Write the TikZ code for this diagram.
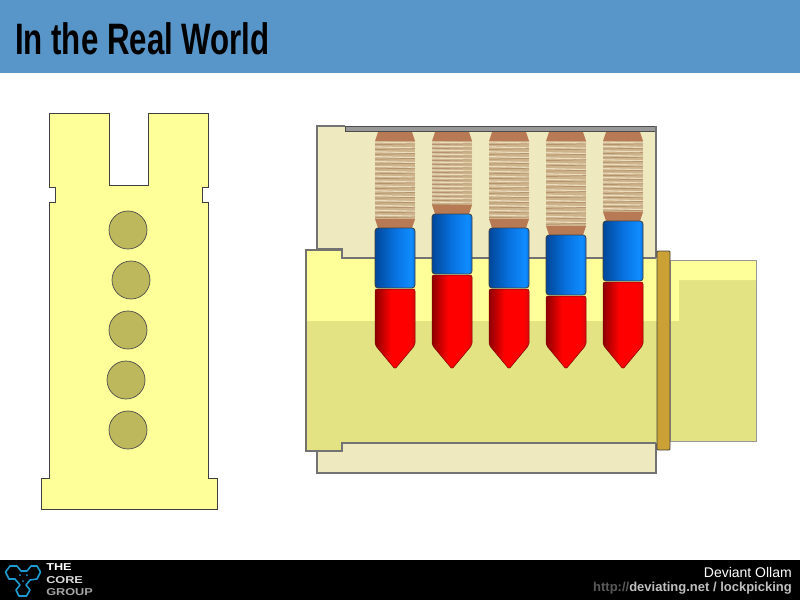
\documentclass[tikz,border=0pt]{standalone}
\usepackage{fontspec}
\setmainfont{Liberation Sans}
\usepackage{xcolor}
\usepackage{tikz}
\definecolor{barB}{HTML}{5895C8}
\definecolor{plugL}{HTML}{FFFF99}
\definecolor{plugD}{HTML}{E3E383}
\definecolor{shellY}{HTML}{EFE9BF}
\definecolor{holeG}{HTML}{BDB85C}
\definecolor{brassO}{HTML}{CBA035}
\definecolor{capB}{HTML}{B87A55}
\definecolor{coilT}{HTML}{CDB48C}
\definecolor{coilL}{HTML}{EBDDBE}
\definecolor{coilD}{HTML}{A8835C}
\definecolor{logoC}{HTML}{1E9BD0}
\definecolor{blueA}{HTML}{00479A}
\definecolor{blueB}{HTML}{0872E0}
\definecolor{blueC}{HTML}{108CFF}
\definecolor{redA}{HTML}{8E0000}
\definecolor{redB}{HTML}{FF0000}
\definecolor{redC}{HTML}{D80A0A}
\pgfdeclarehorizontalshading{pinblue}{100bp}{color(0bp)=(blueA); color(25bp)=(blueA);
  color(50bp)=(blueB); color(70bp)=(blueC); color(75bp)=(blueB); color(100bp)=(blueB)}
\pgfdeclarehorizontalshading{pinred}{100bp}{color(0bp)=(redA); color(25bp)=(redA);
  color(45bp)=(redB); color(68bp)=(redB); color(75bp)=(redC); color(100bp)=(redC)}
\tikzset{
  shellline/.style={draw=black!55,line width=1.2pt},
  faceline/.style={draw=black!75,line width=0.8pt},
  hole/.style={fill=holeG,draw=black!70,line width=0.7pt},
  bluepin/.style={shading=pinblue,draw=black!75,line width=0.8pt,rounded corners=3pt},
  redpin/.style={shading=pinred,draw=black!50!red,line width=0.5pt,rounded corners=2pt},
  logotext/.style={anchor=west,inner sep=0pt,xscale=1.27,transform shape,font=\fontsize{10}{10}\selectfont\bfseries},
}
\begin{document}
\begin{tikzpicture}[x=1pt,y=-1pt]
  \useasboundingbox (0,0) rectangle (800,600);
  % title and footer
  \fill[barB] (0,0) rectangle (800,73);
  \fill[black] (0,560) rectangle (800,600);
  \node[anchor=west,inner sep=0pt,xscale=0.71,transform shape,font=\fontsize{44}{44}\selectfont\bfseries] (title) at (15,39) {In the Real World};
  % front face
  \draw[faceline,fill=plugL] (49,113) -- (109,113) -- (109,185) -- (148,185) -- (148,113) -- (208,113)
    -- (208,187) -- (202,187) -- (202,202) -- (208,202) -- (208,478) -- (217,478) -- (217,509)
    -- (41,509) -- (41,478) -- (49,478) -- (49,202) -- (55,202) -- (55,187) -- (49,187) -- cycle;
  \foreach \x/\y in {128/230,131/280,128/330,126/380,128/430}{
    \fill[hole] (\x,\y) circle (19);
  }
  % shell
  \fill[shellY] (317,126) rectangle (656,260);
  \draw[shellline] (343,249) -- (317,249) -- (317,126) -- (345,126);
  \draw[shellline,fill=shellY] (317,443) rectangle (656,473);
  \draw[draw=black!70,fill=black!40,line width=0.8pt] (345,126) rectangle (656,131);
  \draw[shellline] (656,126) -- (656,258);
  % plug and tail
  \fill[plugD] (670,260) rectangle (756,441);
  \fill[plugL] (670,260) -- (756,260) -- (756,280) -- (679,280) -- (679,321) -- (670,321) -- cycle;
  \draw[draw=black!40,line width=1pt] (670,260) rectangle (756,441);
  \fill[plugL] (306,250) -- (342,250) -- (342,258) -- (660,258) -- (660,321) -- (306,321) -- cycle;
  \fill[plugD] (306,321) -- (660,321) -- (660,443) -- (342,443) -- (342,451) -- (306,451) -- cycle;
  \draw[shellline] (656,258) -- (342,258) -- (342,250) -- (306,250) -- (306,451) -- (342,451) -- (342,443) -- (656,443);
  \draw[draw=black!75,fill=brassO,line width=0.9pt,rounded corners=1pt] (657,251) rectangle (670,450);
  % pins and springs
  \foreach \x/\t in {395/228,452/214,509/228,566/235,623/221}{
    \pgfmathsetmacro{\b}{\t+60}
    \pgfmathsetmacro{\s}{\t-9}
    \fill[coilT] (\x-20,141) rectangle (\x+20,\s);
    \foreach \k in {0,...,15}{
      \pgfmathsetmacro{\c}{141+\k*(\s-141)/16}
      \draw[coilL,line width=1.1pt] (\x-20,\c+1) -- (\x+20,\c+2);
      \draw[coilD,line width=0.5pt] (\x-20,\c+3.6) -- (\x+20,\c+2.8);
    }
    \fill[capB] (\x-17,132) -- (\x+17,132) -- (\x+20,141) -- (\x-20,141) -- cycle;
    \fill[capB] (\x-20,\s) -- (\x+20,\s) -- (\x+17,\t) -- (\x-17,\t) -- cycle;
    \path[redpin] (\x-20,\b+1) -- (\x+20,\b+1) -- (\x+20,345) -- (\x,369) -- (\x-20,345) -- cycle;
    \path[bluepin] (\x-20,\t) rectangle (\x+20,\b);
  }
  % logo
  \draw[logoC,line width=1.6pt,line join=round] (10,566) -- (17,566) -- (21,571) -- (27,571) -- (31,566) -- (37,566)
    -- (40.5,572) -- (37,579) -- (30,580) -- (26,585) -- (30,590) -- (26.5,596) -- (19,596) -- (16,590)
    -- (20,585) -- (15,579) -- (9,579) -- (5.5,572) -- cycle;
  \foreach \x/\y in {20/575,27/575,23/581}{
    \fill[logoC] (\x,\y) circle (1);
  }
  \node[logotext,white] (logoa) at (46,567.5) {THE};
  \node[logotext,black!15] (logob) at (46,580) {CORE};
  \node[logotext,black!35] (logoc) at (46,592) {GROUP};
  % credit
  \node[anchor=east,inner sep=0pt,text=white,font=\fontsize{14}{14}\selectfont] (credit) at (792,572) {Deviant Ollam};
  \node[anchor=east,inner sep=0pt,font=\fontsize{13}{13}\selectfont\bfseries] (site) at (792,588)
    {\textcolor{black!65}{http://}\textcolor{black!25}{deviating.net / lockpicking}};
\end{tikzpicture}
\end{document}
